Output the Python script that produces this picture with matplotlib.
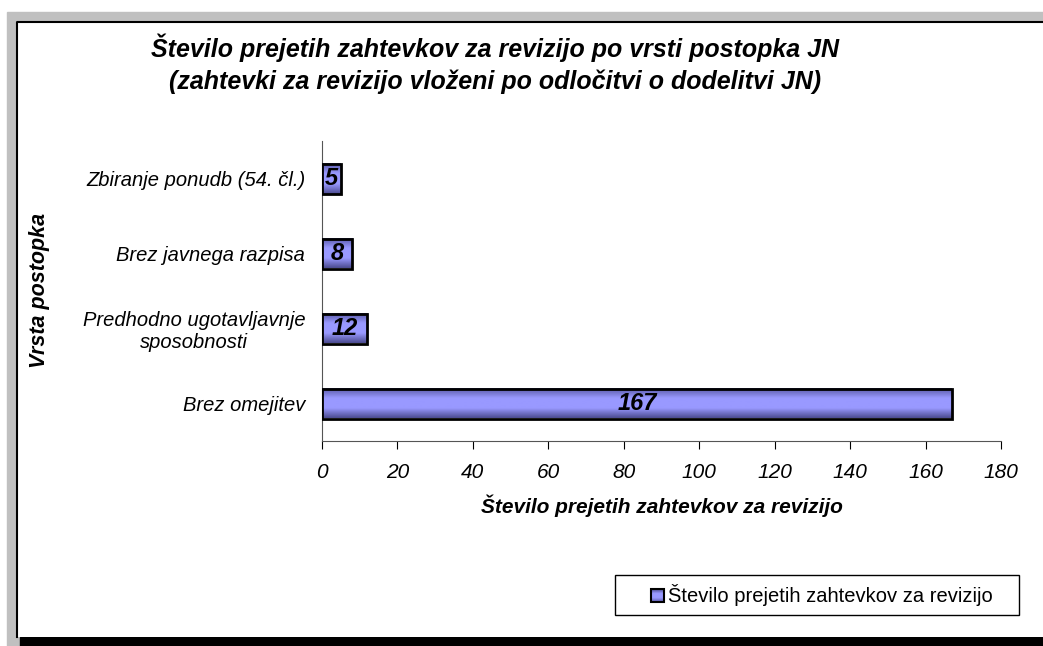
import numpy as np
import matplotlib.pyplot as plt
from matplotlib.patches import Rectangle
from matplotlib.colors import LinearSegmentedColormap

plt.rcParams['font.family'] = ['Liberation Sans', 'DejaVu Sans']

kategorije = ['Brez omejitev', 'Predhodno ugotavljavnje\nsposobnosti',
              'Brez javnega razpisa', 'Zbiranje ponudb (54. čl.)']
vrednosti = [167, 12, 8, 5]
x_ticki = [0, 20, 40, 60, 80, 100, 120, 140, 160, 180]

W, H = 1043, 646
fig = plt.figure(figsize=(W / 100, H / 100), dpi=100)

# okvir v ozadju (sivi rob + crna senca)
bg = fig.add_axes([0, 0, 1, 1])
bg.set_xlim(0, W)
bg.set_ylim(H, 0)
bg.axis('off')
bg.add_patch(Rectangle((7, 12), W - 7, H - 12, color='#c0c0c0'))
bg.add_patch(Rectangle((20, 637), W - 20, 9, color='black'))
bg.add_patch(Rectangle((16, 21), W - 16, 616, facecolor='white', edgecolor='none'))
bg.plot([W, 16.5, 16.5], [21.5, 21.5, 637], color='black', linewidth=1.5)

# glavni graf
x0, x1 = 322, 1001
y0, y1 = 141, 441
ax = fig.add_axes([x0 / W, 1 - y1 / H, (x1 - x0) / W, (y1 - y0) / H])
ax.patch.set_alpha(0)

cmap = LinearSegmentedColormap.from_list('cev', ['#4c4c90', '#9999ff', '#9999ff', '#5a5aa8'])
grad = np.linspace(0, 1, 64).reshape(-1, 1)
h = 0.4
for i, v in enumerate(vrednosti):
    ax.imshow(grad, cmap=cmap, aspect='auto', extent=[0, v, i - h / 2, i + h / 2],
              origin='lower', zorder=2)
    ax.barh(i, v, height=h, facecolor='none', edgecolor='black', linewidth=2, zorder=3)
    ax.text(v / 2, i, str(v), ha='center', va='center', fontsize=17,
            fontweight='bold', fontstyle='italic', zorder=4)
ax.set_xlim(0, 180)
ax.set_ylim(-0.5, 3.5)

ax.set_xticks(x_ticki)
ax.set_xticklabels([str(t) for t in x_ticki], fontsize=15, fontstyle='italic')
ax.tick_params(axis='x', direction='out', length=6, pad=10, colors='black')
ax.set_yticks(range(len(kategorije)))
ax.set_yticklabels(kategorije, fontsize=14.5, fontstyle='italic', multialignment='center')
ax.tick_params(axis='y', length=0, pad=12)
for s in ['top', 'right']:
    ax.spines[s].set_visible(False)
ax.spines['left'].set_color('#555555')
ax.spines['bottom'].set_color('#555555')

ax.set_xlabel('Število prejetih zahtevkov za revizijo', fontsize=15,
              fontweight='bold', fontstyle='italic', labelpad=9)

fig.text(40 / W, 1 - 290 / H, 'Vrsta postopka', rotation=90, ha='center', va='center',
         fontsize=15.5, fontweight='bold', fontstyle='italic')

fig.text(495 / W, 1 - 64 / H,
         'Število prejetih zahtevkov za revizijo po vrsti postopka JN\n'
         '(zahtevki za revizijo vloženi po odločitvi o dodelitvi JN)',
         ha='center', va='center', fontsize=18, fontweight='bold',
         fontstyle='italic', linespacing=1.4)

# legenda
lx, ly, lw, lh = 615, 575, 404, 40
bg.add_patch(Rectangle((lx, ly), lw, lh, facecolor='white', edgecolor='black', linewidth=1))
bg.imshow(grad, cmap=cmap, aspect='auto', extent=[651, 664, 602, 589], zorder=3)
bg.add_patch(Rectangle((651, 589), 13, 13, facecolor='none', edgecolor='black',
                       linewidth=1.5, zorder=4))
bg.text(668, 595, 'Število prejetih zahtevkov za revizijo', ha='left', va='center',
        fontsize=14.5, zorder=4)
bg.set_xlim(0, W)
bg.set_ylim(H, 0)

fig.savefig('out.png', dpi=100)
